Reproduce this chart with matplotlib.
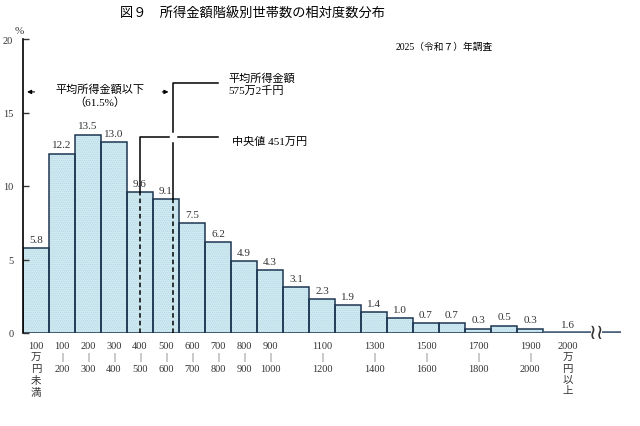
import numpy as np
import matplotlib
matplotlib.use("Agg")
import matplotlib.pyplot as plt

plt.rcParams['font.family'] = ['Liberation Serif', 'Noto Sans CJK JP']
plt.rcParams['hatch.linewidth'] = 0.7

# 所得金額階級 (万円) と相対度数 (%)
lefts = np.arange(0, 2000, 100)
values = [5.8, 12.2, 13.5, 13.0, 9.6, 9.1, 7.5, 6.2, 4.9, 4.3,
          3.1, 2.3, 1.9, 1.4, 1.0, 0.7, 0.7, 0.3, 0.5, 0.3]
over_2000 = 1.6
median = 451
mean = 575.2
below_mean_share = 61.5

tick_pos = [50, 150, 250, 350, 450, 550, 650, 750, 850, 950,
            1150, 1350, 1550, 1750, 1950, 2095]
tick_labels = ["100\n万\n円\n未\n満", "100\n|\n200", "200\n|\n300", "300\n|\n400",
               "400\n|\n500", "500\n|\n600", "600\n|\n700", "700\n|\n800",
               "800\n|\n900", "900\n|\n1000", "1100\n|\n1200", "1300\n|\n1400",
               "1500\n|\n1600", "1700\n|\n1800", "1900\n|\n2000", "2000\n万\n円\n以\n上"]

fig = plt.figure(figsize=(6.4, 4.27), dpi=100)
ax = fig.add_axes([23/640, 1-334/427, 598/640, 294/427])

# dotted light-blue fill, then dark outline
ax.bar(lefts, values, width=100, align='edge', color='#d6edf4',
       edgecolor='#aed5e2', hatch='........', linewidth=0)
ax.bar(lefts, values, width=100, align='edge', fill=False,
       edgecolor='#1d3652', linewidth=1.1)

for x, v in zip(lefts, values):
    ax.annotate(f"{v:.1f}", (x + 50, v), xytext=(0, 3), textcoords='offset points',
                ha='center', va='bottom', fontsize=8, color='#333333')

# 2000万円以上: flat line with break mark
ax.plot([2000, 2185], [0, 0], color='#4a627c', lw=2.6, solid_capstyle='butt')
ax.plot([2225, 2300], [0, 0], color='#4a627c', lw=2.6, solid_capstyle='butt')
ax.text(2205, 0.1, '≀≀', ha='center', va='center', fontsize=15,
        family='DejaVu Sans', color='#333333')
ax.annotate(f"{over_2000:.1f}", (2095, 0), xytext=(0, 3), textcoords='offset points',
            ha='center', va='bottom', fontsize=8, color='#333333')

# median
v_med = values[int(median // 100)]
ax.plot([median, median], [0, v_med], color='black', lw=1.1, ls=(0, (3, 2)))
ax.plot([median, median, mean - 12], [v_med, 13.3, 13.3], color='black', lw=1.1)
ax.plot([mean + 20, 750], [13.3, 13.3], color='black', lw=1.1)
ax.text(805, 13.05, "中央値 451万円", ha='left', va='center', fontsize=8)

# mean
v_mean = values[int(mean // 100)]
ax.plot([mean, mean], [0, v_mean], color='black', lw=1.1, ls=(0, (3, 2)))
ax.plot([mean, mean], [v_mean, 12.9], color='black', lw=1.1)
ax.plot([mean, mean, 750], [13.7, 17.0, 17.0], color='black', lw=1.1)
ax.text(790, 17.0, "平均所得金額\n575万2千円", ha='left', va='center',
        fontsize=8, linespacing=1.2)

# 平均以下 arrows
ax.annotate("", xy=(5, 16.4), xytext=(55, 16.4),
            arrowprops=dict(arrowstyle='-|>', color='black', lw=0.8, mutation_scale=6))
ax.annotate("", xy=(mean - 5, 16.4), xytext=(mean - 50, 16.4),
            arrowprops=dict(arrowstyle='-|>', color='black', lw=0.8, mutation_scale=6))
ax.text(296, 16.2, f"平均所得金額以下\n（{below_mean_share}%）", ha='center', va='center',
        fontsize=8, linespacing=1.35)

ax.set_xlim(0, 2300)
ax.set_ylim(0, 20)
for s in ['top', 'right', 'bottom']:
    ax.spines[s].set_visible(False)
ax.spines['left'].set_linewidth(1.2)
ax.set_yticks([0, 5, 10, 15, 20])
ax.tick_params(axis='y', direction='in', length=4, width=1, labelsize=7.5,
               pad=7, colors='#333333')
ax.set_xticks(tick_pos, tick_labels)
ax.tick_params(axis='x', length=0, labelsize=7.5, pad=6, labelcolor='#333333')
for lab in ax.get_xticklabels():
    lab.set_linespacing(1.3)

fig.text(19/640, 1-31/427, "%", ha='center', va='center', fontsize=8, color='#333333')
fig.text(253/640, 1-14/427, "図９　所得金額階級別世帯数の相対度数分布",
         ha='center', va='center', fontsize=9.5)
fig.text(493/640, 1-47/427, "2025（令和７）年調査", ha='right', va='center', fontsize=7)

fig.savefig("out.png", dpi=100)
